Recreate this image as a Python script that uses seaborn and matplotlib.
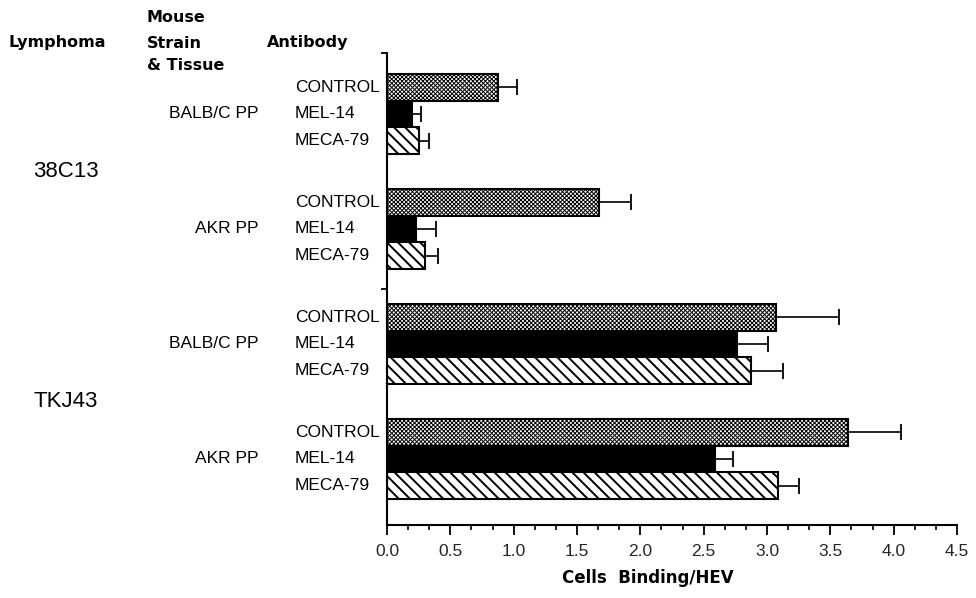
import matplotlib
matplotlib.use('Agg')
import matplotlib.pyplot as plt
import matplotlib.transforms as mtransforms
from matplotlib.ticker import MultipleLocator
import seaborn as sns
import pandas as pd

# data
lymphomas = ['38C13', '38C13', 'TKJ43', 'TKJ43']
strains = ['BALB/C PP', 'AKR PP', 'BALB/C PP', 'AKR PP']
antibodies = ['CONTROL', 'MEL-14', 'MECA-79']
control = [0.88, 1.67, 3.07, 3.64]
control_err = [0.15, 0.26, 0.50, 0.42]
mel14 = [0.20, 0.23, 2.76, 2.59]
mel14_err = [0.07, 0.16, 0.25, 0.14]
meca79 = [0.25, 0.30, 2.87, 3.09]
meca79_err = [0.08, 0.10, 0.26, 0.16]
x_ticks = [0.0, 0.5, 1.0, 1.5, 2.0, 2.5, 3.0, 3.5, 4.0, 4.5]

groups = [l + ' ' + s for l, s in zip(lymphomas, strains)]
rows = []
for ab, vals, errs in zip(antibodies, [control, mel14, meca79],
                          [control_err, mel14_err, meca79_err]):
    for g, v, e in zip(groups, vals, errs):
        rows.append({'group': g, 'antibody': ab, 'value': v, 'err': e})
df = pd.DataFrame(rows)

sns.set_theme(style='ticks')
plt.rcParams['font.family'] = ['Liberation Sans', 'DejaVu Sans']
plt.rcParams['hatch.linewidth'] = 0.7

fig = plt.figure(figsize=(9.76, 5.98), dpi=100)
ax = fig.add_axes([387 / 976, 1 - 525 / 598, 570 / 976, 472 / 598])

sns.barplot(data=df, y='group', x='value', hue='antibody', order=groups,
            hue_order=antibodies, orient='h', width=0.7, errorbar=None,
            palette=['white', 'black', 'white'], edgecolor='black',
            linewidth=1.5, legend=False, ax=ax)

hatches = ['xxxxxxxx', None, '\\\\\\']
lab = mtransforms.blended_transform_factory(ax.transAxes, ax.transData)
for cont, h, ab in zip(ax.containers, hatches, antibodies):
    sub = df[df.antibody == ab].set_index('group').loc[groups]
    ys = []
    for p in cont.patches:
        if h:
            p.set_hatch(h)
            if ab == 'MECA-79':
                if hasattr(p, 'set_hatch_linewidth'):
                    p.set_hatch_linewidth(1.4)
                else:
                    p._hatch_linewidth = 1.4
        ys.append(p.get_y() + p.get_height() / 2)
    ax.errorbar(sub['value'].values, ys,
                xerr=[[0] * len(ys), sub['err'].values], fmt='none',
                ecolor='black', elinewidth=1.2, capsize=6, capthick=1.3)
    for y in ys:
        ax.text(-0.1614, y, ab, transform=lab, ha='left', va='center',
                fontsize=12.5, color='black')

for i, s in enumerate(strains):
    ax.text(-0.2246, i, s, transform=lab, ha='right', va='center',
            fontsize=12.5, color='black')
ax.text(-0.621, 0.5, '38C13', transform=lab, ha='left', va='center',
        fontsize=16, color='black')
ax.text(-0.621, 2.5, 'TKJ43', transform=lab, ha='left', va='center',
        fontsize=16, color='black')

ax.set_xlim(0, 4.5)
ax.set_ylim(3.574, -0.53)
ax.set_xticks(x_ticks)
ax.set_xticklabels(['%.1f' % t for t in x_ticks], fontsize=12.5)
ax.xaxis.set_minor_locator(MultipleLocator(0.5 / 3))
ax.set_yticks([-0.53, 1.52])
ax.set_yticklabels([])
ax.tick_params(axis='x', which='major', length=7, width=1.3, direction='out',
               color='black', pad=7)
ax.tick_params(axis='x', which='minor', length=3.5, width=1.2,
               direction='out', color='black')
ax.tick_params(axis='y', length=4, width=1.3, direction='out', color='black')
ax.set_xlabel('')
ax.set_ylabel('')
sns.despine(ax=ax)
for side in ['left', 'bottom']:
    ax.spines[side].set_linewidth(1.5)
    ax.spines[side].set_color('black')


def fpos(x, y):
    return x / 976, 1 - y / 598


hdr = dict(family='DejaVu Sans', fontweight='bold', fontsize=11.5,
           va='center', ha='left', color='black')
fig.text(*fpos(8, 43), 'Lymphoma', **hdr)
fig.text(*fpos(147, 18), 'Mouse', **hdr)
fig.text(*fpos(147, 43), 'Strain', **hdr)
fig.text(*fpos(147, 66), '& Tissue', **hdr)
fig.text(*fpos(267, 43), 'Antibody', **hdr)
fig.text(*fpos(648, 578), 'Cells  Binding/HEV', family='DejaVu Sans',
         fontweight='bold', fontsize=12, ha='center', va='center',
         color='black')

fig.savefig('out.png', dpi=100, facecolor='white')
